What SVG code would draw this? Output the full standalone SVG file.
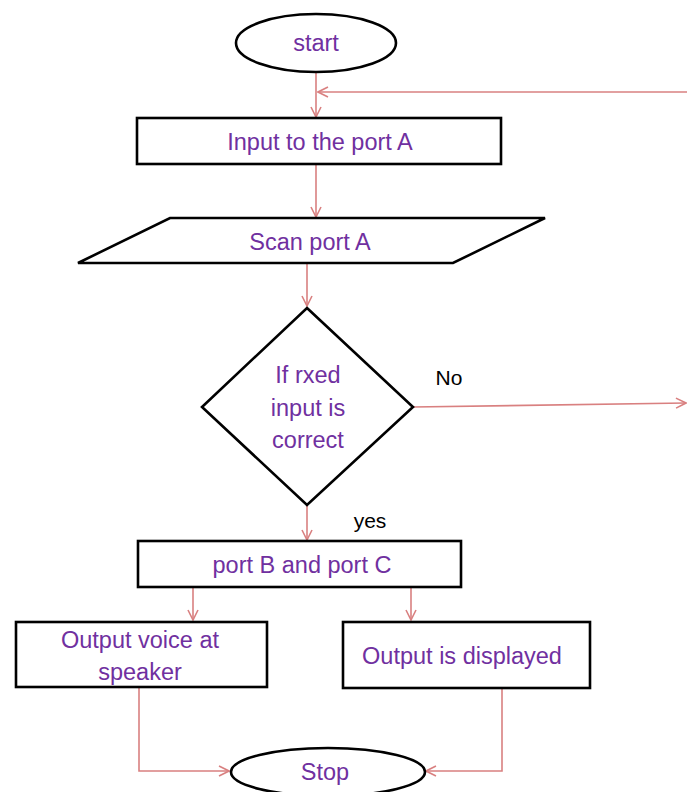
<svg xmlns="http://www.w3.org/2000/svg" width="687" height="792" viewBox="0 0 687 792">
  <defs>
    <style>
      .shape { fill: #ffffff; stroke: #000000; stroke-width: 2.6; }
      .lbl { font-family: "Liberation Sans", Arial, sans-serif; font-size: 23.5px; fill: #7030a0; text-anchor: middle; }
      .tag { font-family: "Liberation Sans", Arial, sans-serif; font-size: 21px; fill: #000000; text-anchor: middle; }
      .link { fill: none; stroke: #d98080; stroke-width: 1.6; }
    </style>
    <marker id="arrow" viewBox="0 0 12 12" refX="11" refY="6" markerWidth="12" markerHeight="12" markerUnits="userSpaceOnUse" orient="auto">
      <path d="M1,1 L11,6 L1,11" fill="none" stroke="#d98080" stroke-width="1.6"/>
    </marker>
  </defs>
  <rect width="687" height="792" fill="#ffffff"/>

  <g id="connectors">
    <path class="link" d="M316,73 L316,117" marker-end="url(#arrow)"/>
    <path class="link" d="M687,92 L318,92" marker-end="url(#arrow)"/>
    <path class="link" d="M316,165 L316,217" marker-end="url(#arrow)"/>
    <path class="link" d="M307,264 L307,306" marker-end="url(#arrow)"/>
    <path class="link" d="M413,407 L686,403" marker-end="url(#arrow)"/>
    <path class="link" d="M307,506 L307,540" marker-end="url(#arrow)"/>
    <path class="link" d="M193,588 L193,620" marker-end="url(#arrow)"/>
    <path class="link" d="M411,588 L411,620" marker-end="url(#arrow)"/>
    <path class="link" d="M139,688 L139,771 L229,771" marker-end="url(#arrow)"/>
    <path class="link" d="M502,689 L502,771 L426,771" marker-end="url(#arrow)"/>
    <text class="tag" x="449" y="385">No</text>
    <text class="tag" x="370" y="528">yes</text>
  </g>

  <g id="start">
    <ellipse class="shape" cx="316" cy="43" rx="80" ry="29"/>
    <text class="lbl" x="316" y="51">start</text>
  </g>

  <g id="input">
    <rect class="shape" x="137" y="118" width="364" height="46"/>
    <text class="lbl" x="320" y="150">Input to the port A</text>
  </g>

  <g id="scan">
    <polygon class="shape" points="170,218 545,218 453,263 78,263"/>
    <text class="lbl" x="310" y="250">Scan port A</text>
  </g>

  <g id="check">
    <polygon class="shape" points="307,308 413,407 307,505 202,407"/>
    <text class="lbl" x="308" y="383">If rxed</text>
    <text class="lbl" x="308" y="416">input is</text>
    <text class="lbl" x="308" y="448">correct</text>
  </g>

  <g id="ports">
    <rect class="shape" x="138" y="541" width="323" height="46"/>
    <text class="lbl" x="302" y="573">port B and port C</text>
  </g>

  <g id="voice">
    <rect class="shape" x="16" y="622" width="251" height="65"/>
    <text class="lbl" x="140" y="648">Output voice at</text>
    <text class="lbl" x="140" y="680">speaker</text>
  </g>

  <g id="display">
    <rect class="shape" x="343" y="622" width="247" height="66"/>
    <text class="lbl" x="462" y="664">Output is displayed</text>
  </g>

  <g id="stop">
    <ellipse class="shape" cx="328" cy="772" rx="97" ry="24"/>
    <text class="lbl" x="325" y="780">Stop</text>
  </g>
</svg>
